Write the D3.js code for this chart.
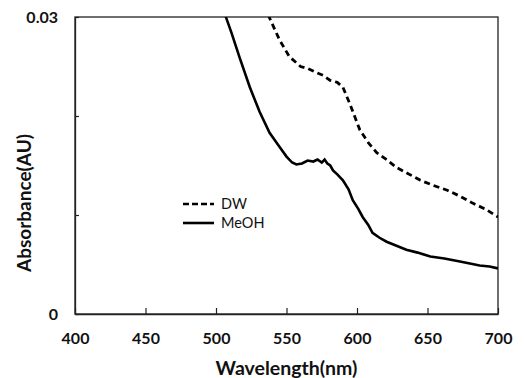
<!DOCTYPE html>
<html>
<head>
<meta charset="UTF-8">
<script src="https://cdn.jsdelivr.net/npm/d3@7/dist/d3.min.js"></script>
<style>
  body { margin: 0; background: #fff; }
  text { font-family: Lato, "Open Sans", sans-serif; }
</style>
</head>
<body>
<script>
// wavelength (nm) / absorbance (AU)
var meohWl  = [504, 507, 511, 517, 524, 531, 538, 545, 550, 554, 557, 561, 565, 569, 572, 575, 577, 579, 581, 583, 586, 590, 594, 597, 601, 604, 608, 611, 616, 621, 628, 635, 643, 652, 662, 673, 680, 687, 694, 700];
var meohAbs = [0.0318, 0.0300, 0.0284, 0.0258, 0.0229, 0.0204, 0.0183, 0.0169, 0.0159, 0.0153, 0.0151, 0.0152, 0.0155, 0.0154, 0.0156, 0.0153, 0.0156, 0.0152, 0.0150, 0.0145, 0.0141, 0.0135, 0.0126, 0.0115, 0.0106, 0.0098, 0.0090, 0.0082, 0.0077, 0.0073, 0.0069, 0.0065, 0.0062, 0.0058, 0.0056, 0.0053, 0.0051, 0.0049, 0.0048, 0.0046];
var dwWl  = [535, 538, 545, 552, 560, 565, 571, 576, 581, 586, 590, 595, 602, 608, 614, 621, 628, 636, 645, 654, 664, 673, 682, 691, 700];
var dwAbs = [0.0312, 0.0299, 0.0277, 0.0260, 0.0250, 0.0248, 0.0244, 0.0241, 0.0236, 0.0234, 0.0229, 0.0212, 0.0186, 0.0173, 0.0163, 0.0156, 0.0148, 0.0142, 0.0135, 0.0130, 0.0125, 0.0119, 0.0112, 0.0106, 0.0098];
var xTicks = [400, 450, 500, 550, 600, 650, 700];
var yTicks = [0, 0.01, 0.02, 0.03];
var yLabels = {0: "0", 0.03: "0.03"};
var seriesNames = ["DW", "MeOH"];

var W = 524, H = 378;
var m = {left: 75, top: 17, right: 26, bottom: 64};

var svg = d3.select("body").append("svg")
    .attr("width", W).attr("height", H);

var x = d3.scaleLinear().domain([400, 700]).range([m.left, W - m.right]);
var y = d3.scaleLinear().domain([0, 0.03]).range([H - m.bottom, m.top]);

svg.append("clipPath").attr("id", "plotclip")
  .append("rect")
    .attr("x", x(400)).attr("y", y(0.03))
    .attr("width", x(700) - x(400)).attr("height", y(0) - y(0.03));

// box
svg.append("rect")
    .attr("x", x(400)).attr("y", y(0.03))
    .attr("width", x(700) - x(400)).attr("height", y(0) - y(0.03))
    .attr("fill", "none").attr("stroke", "#222").attr("stroke-width", 1.3);

// x axis (ticks inward)
var xAxis = svg.append("g")
    .attr("transform", "translate(0," + y(0) + ")")
    .call(d3.axisBottom(x).tickValues(xTicks).tickSizeInner(-6).tickSizeOuter(0).tickPadding(19));
xAxis.select(".domain").attr("stroke", "#222").attr("stroke-width", 1.3);
xAxis.selectAll(".tick line").attr("stroke", "#222").attr("stroke-width", 1.2);
xAxis.selectAll(".tick text")
    .attr("font-family", "Lato, sans-serif").attr("font-weight", "bold")
    .attr("font-size", 16).attr("fill", "#111");

// y axis (ticks inward, only ends labelled)
var yAxis = svg.append("g")
    .attr("transform", "translate(" + x(400) + ",0)")
    .call(d3.axisLeft(y).tickValues(yTicks).tickSizeInner(-4).tickSizeOuter(0).tickPadding(17)
      .tickFormat(function(d) { return yLabels[d] || ""; }));
yAxis.select(".domain").attr("stroke", "#222").attr("stroke-width", 1.3);
yAxis.selectAll(".tick line").attr("stroke", "#222").attr("stroke-width", 1.2);
yAxis.selectAll(".tick text")
    .attr("font-family", "Lato, sans-serif").attr("font-weight", "bold")
    .attr("font-size", 16).attr("fill", "#111");

// axis titles
svg.append("text")
    .attr("x", (x(400) + x(700)) / 2).attr("y", 375)
    .attr("text-anchor", "middle")
    .attr("font-weight", "bold").attr("font-size", 19.5).attr("fill", "#111")
    .text("Wavelength(nm)");
svg.append("text")
    .attr("transform", "translate(31,203) rotate(-90)")
    .attr("text-anchor", "middle")
    .attr("font-weight", "bold").attr("font-size", 19).attr("fill", "#111")
    .text("Absorbance(AU)");

// curves
var line = d3.line()
    .x(function(d) { return x(d[0]); })
    .y(function(d) { return y(d[1]); });

var plot = svg.append("g").attr("clip-path", "url(#plotclip)");
plot.append("path")
    .datum(d3.zip(dwWl, dwAbs))
    .attr("d", line)
    .attr("fill", "none").attr("stroke", "#000")
    .attr("stroke-width", 2.8).attr("stroke-dasharray", "6,4");
plot.append("path")
    .datum(d3.zip(meohWl, meohAbs))
    .attr("d", line)
    .attr("fill", "none").attr("stroke", "#000")
    .attr("stroke-width", 2.6);

// legend
var leg = svg.append("g").attr("transform", "translate(183,204)");
seriesNames.forEach(function(name, i) {
    leg.append("line")
        .attr("x1", 0).attr("x2", 31).attr("y1", i * 19).attr("y2", i * 19)
        .attr("stroke", "#000").attr("stroke-width", 2.6)
        .attr("stroke-dasharray", i === 0 ? "6,3" : null);
    leg.append("text")
        .attr("x", 38).attr("y", i * 19 + 5)
        .attr("font-size", 14.5).attr("fill", "#111")
        .text(name);
});
</script>
</body>
</html>
